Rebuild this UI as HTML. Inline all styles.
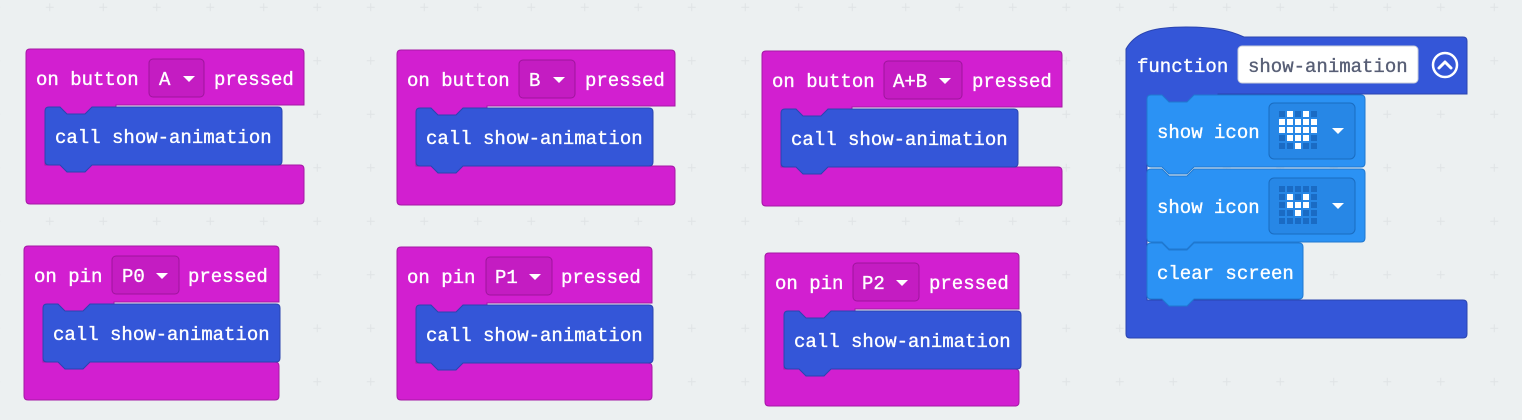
<!DOCTYPE html>
<html><head><meta charset="utf-8"><style>
html,body{margin:0;padding:0;background:#ecf0f1;}
svg{display:block}
text{font-family:"Liberation Mono",monospace;font-size:19px;fill:#fff;stroke:#fff;stroke-width:0.35}
</style></head><body>
<svg width="1522" height="420" xmlns="http://www.w3.org/2000/svg">
<defs>
<pattern id="grid" x="23" y="34" width="53.5" height="53.5" patternUnits="userSpaceOnUse">
<path d="M26.75,22.75 V30.75 M22.75,26.75 H30.75" stroke="#dfe3e5" stroke-width="1"/>
</pattern>
<g id="call">
<path d="M19,62 Q19,58 23,58 H34 L41,65 H59 L66,58 H252 Q256,58 256,62 V112 Q256,116 252,116 H66 L59,123 H41 L34,116 H23 Q19,116 19,112 Z" fill="#3456d8" stroke="#2a44b0" stroke-width="1"/>
<text x="29" y="94">call show-animation</text>
</g>
<g id="tri"><path d="M-6,-3 H6 L0,3 Z" fill="#fff"/></g>
</defs>
<rect width="1522" height="420" fill="#ecf0f1"/>
<rect width="1522" height="420" fill="url(#grid)"/>

<!-- A -->
<g transform="translate(26,49)">
<path d="M0,4 Q0,0 4,0 H274 Q278,0 278,4 V56 H90 V66 H19 V116 H274 Q278,116 278,120 V151 Q278,155 274,155 H4 Q0,155 0,151 Z" fill="#d21fd0" stroke="#a518a5"/>
<text x="10" y="36">on button</text>
<rect x="123" y="10" width="55" height="38" rx="4" fill="#c41cc2" stroke="#9e159c"/>
<text x="133" y="36">A</text><use href="#tri" x="163" y="30"/>
<text x="188" y="36">pressed</text>
<use href="#call"/>
</g>
<!-- B -->
<g transform="translate(397,50)">
<path d="M0,4 Q0,0 4,0 H274 Q278,0 278,4 V56 H90 V66 H19 V116 H274 Q278,116 278,120 V151 Q278,155 274,155 H4 Q0,155 0,151 Z" fill="#d21fd0" stroke="#a518a5"/>
<text x="10" y="36">on button</text>
<rect x="122" y="10" width="56" height="38" rx="4" fill="#c41cc2" stroke="#9e159c"/>
<text x="132" y="36">B</text><use href="#tri" x="162" y="30"/>
<text x="188" y="36">pressed</text>
<use href="#call"/>
</g>
<!-- A+B -->
<g transform="translate(762,51)">
<path d="M0,4 Q0,0 4,0 H296 Q300,0 300,4 V56 H90 V66 H19 V116 H296 Q300,116 300,120 V151 Q300,155 296,155 H4 Q0,155 0,151 Z" fill="#d21fd0" stroke="#a518a5"/>
<text x="10" y="36">on button</text>
<rect x="122" y="10" width="78" height="38" rx="4" fill="#c41cc2" stroke="#9e159c"/>
<text x="131" y="36">A+B</text><use href="#tri" x="183" y="30"/>
<text x="210" y="36">pressed</text>
<use href="#call"/>
</g>
<!-- P0 -->
<g transform="translate(24,246)">
<path d="M0,4 Q0,0 4,0 H251 Q255,0 255,4 V56 H90 V66 H19 V116 H251 Q255,116 255,120 V150 Q255,154 251,154 H4 Q0,154 0,150 Z" fill="#d21fd0" stroke="#a518a5"/>
<text x="10" y="36">on pin</text>
<rect x="88" y="10" width="67" height="38" rx="4" fill="#c41cc2" stroke="#9e159c"/>
<text x="98" y="36">P0</text><use href="#tri" x="138" y="30"/>
<text x="164" y="36">pressed</text>
<use href="#call"/>
</g>
<!-- P1 -->
<g transform="translate(397,247)">
<path d="M0,4 Q0,0 4,0 H251 Q255,0 255,4 V56 H90 V66 H19 V116 H251 Q255,116 255,120 V149 Q255,153 251,153 H4 Q0,153 0,149 Z" fill="#d21fd0" stroke="#a518a5"/>
<text x="10" y="36">on pin</text>
<rect x="89" y="10" width="66" height="38" rx="4" fill="#c41cc2" stroke="#9e159c"/>
<text x="98" y="36">P1</text><use href="#tri" x="138" y="30"/>
<text x="164" y="36">pressed</text>
<use href="#call"/>
</g>
<!-- P2 -->
<g transform="translate(765,253)">
<path d="M0,4 Q0,0 4,0 H250 Q254,0 254,4 V56 H90 V66 H19 V116 H250 Q254,116 254,120 V149 Q254,153 250,153 H4 Q0,153 0,149 Z" fill="#d21fd0" stroke="#a518a5"/>
<text x="10" y="36">on pin</text>
<rect x="88" y="10" width="66" height="38" rx="4" fill="#c41cc2" stroke="#9e159c"/>
<text x="97" y="36">P2</text><use href="#tri" x="137" y="30"/>
<text x="164" y="36">pressed</text>
<use href="#call"/>
</g>

<!-- function -->
<g transform="translate(1126,37)">
<path d="M0,12 C10,-6 30,-10 60,-10 C90,-10 105,-6 118,0 H337 Q341,0 341,4 V57 H92 V66 H21 V263 H337 Q341,263 341,267 V297 Q341,301 337,301 H4 Q0,301 0,297 Z" fill="#3456d8" stroke="#2a44b0"/>
<text x="11" y="35">function</text>
<rect x="112" y="9" width="180" height="37" rx="4" fill="#fff" stroke="#c8cdd8"/>
<text x="122" y="35" style="fill:#575e75;stroke:#575e75">show-animation</text>
<circle cx="319" cy="28" r="12" fill="none" stroke="#fff" stroke-width="2.5"/>
<path d="M313,31 L319,25 L325,31" fill="none" stroke="#fff" stroke-width="3" stroke-linecap="round" stroke-linejoin="round"/>

<!-- clear screen (drawn first so upper blocks' tabs overlap) -->
<path d="M21,210 Q21,206 25,206 H36 L43,213 H61 L68,206 H173 Q177,206 177,210 V258 Q177,262 173,262 H68 L61,269 H43 L36,262 H25 Q21,262 21,258 Z" fill="#2b92f4" stroke="#1f78d0"/>
<text x="31" y="242">clear screen</text>
<!-- show icon 2 -->
<path d="M21,136 Q21,132 25,132 H36 L43,139 H61 L68,132 H235 Q239,132 239,136 V201 Q239,205 235,205 H68 L61,212 H43 L36,205 H25 Q21,205 21,201 Z" fill="#2b92f4" stroke="#1f78d0"/>
<text x="31" y="176">show icon</text>
<rect x="143" y="141" width="86" height="56" rx="5" fill="#2787e6" stroke="#1a6cc0"/>
<use href="#tri" x="212" y="169"/>
<!-- show icon 1 -->
<path d="M21,62 Q21,58 25,58 H36 L43,65 H61 L68,58 H235 Q239,58 239,62 V126 Q239,130 235,130 H68 L61,137 H43 L36,130 H25 Q21,130 21,126 Z" fill="#2b92f4" stroke="#1f78d0"/>
<text x="31" y="101">show icon</text>
<rect x="143" y="66" width="86" height="56" rx="5" fill="#2787e6" stroke="#1a6cc0"/>
<use href="#tri" x="212" y="94"/>
</g>

<!-- heart 1 dots -->
<g fill="#1a6bc4">
<rect x="1279" y="111" width="6" height="6"/><rect x="1295" y="111" width="6" height="6"/><rect x="1311" y="111" width="6" height="6"/>
<rect x="1279" y="135" width="6" height="6"/><rect x="1311" y="135" width="6" height="6"/>
<rect x="1279" y="143" width="6" height="6"/><rect x="1287" y="143" width="6" height="6"/><rect x="1303" y="143" width="6" height="6"/><rect x="1311" y="143" width="6" height="6"/>
</g>
<g fill="#fff">
<rect x="1287" y="111" width="6" height="6"/><rect x="1303" y="111" width="6" height="6"/>
<rect x="1279" y="119" width="6" height="6"/><rect x="1287" y="119" width="6" height="6"/><rect x="1295" y="119" width="6" height="6"/><rect x="1303" y="119" width="6" height="6"/><rect x="1311" y="119" width="6" height="6"/>
<rect x="1279" y="127" width="6" height="6"/><rect x="1287" y="127" width="6" height="6"/><rect x="1295" y="127" width="6" height="6"/><rect x="1303" y="127" width="6" height="6"/><rect x="1311" y="127" width="6" height="6"/>
<rect x="1287" y="135" width="6" height="6"/><rect x="1295" y="135" width="6" height="6"/><rect x="1303" y="135" width="6" height="6"/>
<rect x="1295" y="143" width="6" height="6"/>
</g>
<!-- heart 2 dots -->
<g fill="#1a6bc4">
<rect x="1279" y="186" width="6" height="6"/><rect x="1287" y="186" width="6" height="6"/><rect x="1295" y="186" width="6" height="6"/><rect x="1303" y="186" width="6" height="6"/><rect x="1311" y="186" width="6" height="6"/>
<rect x="1279" y="194" width="6" height="6"/><rect x="1295" y="194" width="6" height="6"/><rect x="1311" y="194" width="6" height="6"/>
<rect x="1279" y="202" width="6" height="6"/><rect x="1311" y="202" width="6" height="6"/>
<rect x="1279" y="210" width="6" height="6"/><rect x="1287" y="210" width="6" height="6"/><rect x="1303" y="210" width="6" height="6"/><rect x="1311" y="210" width="6" height="6"/>
<rect x="1279" y="218" width="6" height="6"/><rect x="1287" y="218" width="6" height="6"/><rect x="1295" y="218" width="6" height="6"/><rect x="1303" y="218" width="6" height="6"/><rect x="1311" y="218" width="6" height="6"/>
</g>
<g fill="#fff">
<rect x="1287" y="194" width="6" height="6"/><rect x="1303" y="194" width="6" height="6"/>
<rect x="1287" y="202" width="6" height="6"/><rect x="1295" y="202" width="6" height="6"/><rect x="1303" y="202" width="6" height="6"/>
<rect x="1295" y="210" width="6" height="6"/>
</g>
</svg>
</body></html>
